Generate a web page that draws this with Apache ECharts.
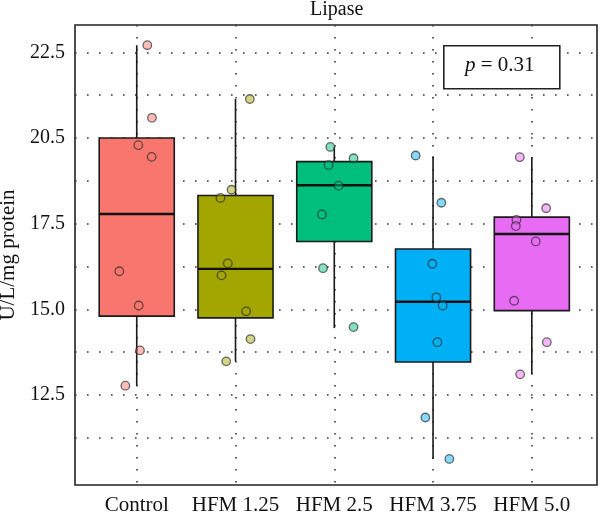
<!DOCTYPE html>
<html>
<head>
<meta charset="utf-8">
<script src="https://cdn.jsdelivr.net/npm/echarts@6/dist/echarts.min.js"></script>
<style>
  html, body { margin: 0; padding: 0; background: #fff; }
  #chart { width: 600px; height: 514px; }
</style>
</head>
<body>
<div id="chart"></div>
<script>
// groups on the x axis (placed at 1..5)
const categories = ['Control', 'HFM 1.25', 'HFM 2.5', 'HFM 3.75', 'HFM 5.0']
const colors = ['#F8766D', '#A3A500', '#00BF7D', '#00B0F6', '#E76BF3']

// box stats: [min, Q1, median, Q3, max]
const boxControl = [12.77, 14.80, 17.78, 20.00, 22.71]
const boxHfm125 = [13.48, 14.75, 16.18, 18.32, 21.14]
const boxHfm25 = [14.45, 16.98, 18.62, 19.31, 19.74]
const boxHfm375 = [10.63, 13.46, 15.22, 16.76, 19.47]
const boxHfm50 = [13.10, 14.96, 17.20, 17.69, 19.44]

// individual points (y values) and their horizontal jitter
const ptsControl = [22.71, 20.59, 19.79, 19.45, 16.11, 15.11, 13.80, 12.77]
const jitControl = [0.107, 0.154, 0.016, 0.151, -0.176, 0.02, 0.033, -0.115]
const ptsHfm125 = [21.14, 18.49, 18.25, 16.34, 15.99, 14.94, 14.13, 13.48]
const jitHfm125 = [0.145, -0.04, -0.152, -0.078, -0.142, 0.108, 0.152, -0.094]
const ptsHfm25 = [19.74, 19.41, 19.21, 18.61, 17.77, 16.20, 14.48]
const jitHfm25 = [-0.04, 0.195, -0.058, 0.044, -0.125, -0.114, 0.195]
const ptsHfm375 = [19.49, 18.11, 16.33, 15.35, 15.11, 14.04, 11.84, 10.63]
const jitHfm375 = [-0.176, 0.084, -0.007, 0.033, 0.097, 0.044, -0.078, 0.165]
const ptsHfm50 = [19.44, 17.95, 17.61, 17.43, 16.98, 15.25, 14.04, 13.10]
const jitHfm50 = [-0.122, 0.145, -0.156, -0.162, 0.04, -0.179, 0.152, -0.118]

// axis ticks
const xTicks = [1, 2, 3, 4, 5]
const yTicks = [12.5, 15, 17.5, 20, 22.5]
const yTickLabels = ['12.5', '15.0', '17.5', '20.5', '22.5']
const yGrid = [11.25, 12.5, 13.75, 15, 16.25, 17.5, 18.75, 20, 21.25, 22.5]

const boxes = [boxControl, boxHfm125, boxHfm25, boxHfm375, boxHfm50]
const points = [ptsControl, ptsHfm125, ptsHfm25, ptsHfm375, ptsHfm50]
const jitters = [jitControl, jitHfm125, jitHfm25, jitHfm375, jitHfm50]

const font = '"Liberation Serif", "Times New Roman", serif'
const boxWidth = 0.76
const gridDots = { type: [1.6, 10.4], color: '#333', width: 1.6 }

function hexAlpha(hex, a) {
  const n = parseInt(hex.slice(1), 16)
  return 'rgba(' + (n >> 16) + ',' + ((n >> 8) & 255) + ',' + (n & 255) + ',' + a + ')'
}

function renderBox(params, api) {
  const x = api.value(0)
  const lo = api.coord([x, api.value(1)])
  const q1 = api.coord([x, api.value(2)])
  const md = api.coord([x, api.value(3)])
  const q3 = api.coord([x, api.value(4)])
  const hi = api.coord([x, api.value(5)])
  const w = api.size([boxWidth, 0])[0]
  const line = { stroke: '#1a1a1a', lineWidth: 1.6 }
  return {
    type: 'group',
    children: [
      { type: 'line', shape: { x1: lo[0], y1: lo[1], x2: q1[0], y2: q1[1] }, style: line },
      { type: 'line', shape: { x1: q3[0], y1: q3[1], x2: hi[0], y2: hi[1] }, style: line },
      {
        type: 'rect',
        shape: { x: q3[0] - w / 2, y: q3[1], width: w, height: q1[1] - q3[1] },
        style: { fill: colors[params.dataIndex], stroke: '#1a1a1a', lineWidth: 1.6 },
      },
      {
        type: 'line',
        shape: { x1: md[0] - w / 2, y1: md[1], x2: md[0] + w / 2, y2: md[1] },
        style: { stroke: '#111', lineWidth: 2.4 },
      },
    ],
  }
}

const boxData = boxes.map((b, i) => [xTicks[i]].concat(b))

const scatterSeries = points.map((pts, i) => ({
  type: 'scatter',
  name: categories[i],
  symbolSize: 8.5,
  z: 5,
  itemStyle: {
    color: hexAlpha(colors[i], 0.6),
    borderColor: 'rgba(40,40,40,0.85)',
    borderWidth: 1.3,
  },
  data: pts.map((v, k) => [xTicks[i] + jitters[i][k], v]),
}))

const chart = echarts.init(document.getElementById('chart'), null, { renderer: 'canvas' })
chart.setOption({
  animation: false,
  backgroundColor: '#fff',
  title: {
    text: 'Lipase',
    left: 310,
    top: 0,
    padding: 0,
    textStyle: { fontFamily: font, fontSize: 20, fontWeight: 'normal', color: '#111' },
  },
  grid: {
    left: 75,
    right: 3,
    top: 25,
    bottom: 29,
    containLabel: false,
    outerBoundsMode: 'none',
    show: true,
    borderColor: '#222',
    borderWidth: 1.6,
  },
  xAxis: {
    type: 'value',
    min: 0.375,
    max: 5.66,
    axisLine: { show: false },
    axisTick: { show: false, customValues: xTicks },
    axisLabel: {
      customValues: xTicks,
      formatter: (v) => categories[Math.round(v) - 1],
      fontFamily: font,
      fontSize: 21,
      color: '#111',
      margin: 10,
    },
    splitLine: { show: true, lineStyle: gridDots },
  },
  yAxis: {
    type: 'value',
    min: 9.87,
    max: 23.3,
    axisLine: { show: false },
    axisTick: { show: false, customValues: yGrid },
    axisLabel: {
      customValues: yTicks,
      formatter: (v) => yTickLabels[yTicks.indexOf(v)],
      fontFamily: font,
      fontSize: 20,
      color: '#111',
      margin: 10,
    },
    splitLine: { show: true, lineStyle: gridDots },
    name: 'U/L/mg protein',
    nameLocation: 'middle',
    nameGap: 53,
    nameTextStyle: { fontFamily: font, fontSize: 21, color: '#111' },
  },
  graphic: [
    {
      type: 'rect',
      left: 443,
      top: 45,
      shape: { width: 116, height: 43 },
      style: { fill: '#fff', stroke: '#222', lineWidth: 1.6 },
      z: 10,
    },
    {
      type: 'text',
      left: 465,
      top: 55,
      z: 11,
      style: {
        text: '{i|p} = 0.31',
        font: '21px ' + font,
        fill: '#111',
        rich: { i: { fontStyle: 'italic', fontFamily: font, fontSize: 21 } },
      },
    },
  ],
  series: [
    {
      type: 'custom',
      renderItem: renderBox,
      z: 2,
      data: boxData,
    },
  ].concat(scatterSeries),
})
</script>
</body>
</html>
